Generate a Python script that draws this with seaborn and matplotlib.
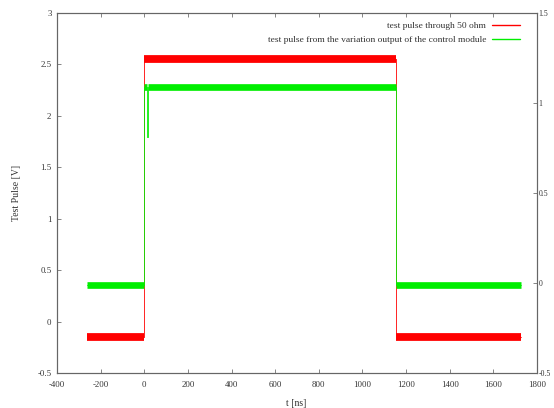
import numpy as np
import pandas as pd
import matplotlib
matplotlib.use("Agg")
import matplotlib.pyplot as plt
from matplotlib.lines import Line2D
import seaborn as sns

# red trace: test pulse through 50 ohm (left axis)
red_t = [-262, 0, 0, 1155, 1155, 1725]
red_v = [-0.15, -0.15, 2.55, 2.55, -0.15, -0.15]

# green trace: variation output of the control module (right axis)
green_t = [-262, 0, 0, 12, 12, 15, 15, 1155, 1155, 1725]
green_v = [-0.01, -0.01, 1.09, 1.09, 0.81, 0.81, 1.09, 1.09, -0.01, -0.01]

# flat parts of each trace (index pairs into the lists above)
red_levels = [(0, 1), (2, 3), (4, 5)]
green_levels = [(0, 1), (2, 3), (6, 7), (8, 9)]

red_label = "test pulse through 50 ohm"
green_label = "test pulse from the variation output of the control module"

x_ticks = list(range(-400, 1801, 200))
y_ticks = [-0.5, 0, 0.5, 1, 1.5, 2, 2.5, 3]
y2_ticks = [-0.5, 0, 0.5, 1, 1.5]

sns.set_style("ticks")
plt.rcParams['font.family'] = ['Liberation Serif', 'DejaVu Serif']
plt.rcParams['xtick.direction'] = 'in'
plt.rcParams['ytick.direction'] = 'in'

RED = "#ff0000"
GREEN = "#00ee00"
TXT = '#333333'

fig = plt.figure(figsize=(5.54, 4.08), dpi=100)
ax = fig.add_axes([0.1029, 0.0858, 0.8664, 0.8823])
ax2 = ax.twinx()

red_df = pd.DataFrame({"t": red_t, "v": red_v})
green_df = pd.DataFrame({"t": green_t, "v": green_v})

# thin full traces (with the edges)
sns.lineplot(data=red_df, x="t", y="v", ax=ax, color=RED, lw=0.6,
             sort=False, estimator=None, legend=False)
sns.lineplot(data=green_df, x="t", y="v", ax=ax2, color=GREEN, lw=0.6,
             sort=False, estimator=None, legend=False)

# thick plateaus to mimic the noisy band
for i, j in red_levels:
    sns.lineplot(x=[red_t[i], red_t[j]], y=[red_v[i], red_v[j]], ax=ax,
                 color=RED, lw=5.6, legend=False, solid_capstyle='butt')
for i, j in green_levels:
    sns.lineplot(x=[green_t[i], green_t[j]], y=[green_v[i], green_v[j]], ax=ax2,
                 color=GREEN, lw=4.8, legend=False, solid_capstyle='butt')

ax.set_xlim(-400, 1800)
ax.set_ylim(-0.5, 3)
ax2.set_ylim(-0.5, 1.5)
ax.set_xticks(x_ticks)
ax.set_xticklabels([str(v) for v in x_ticks])
ax.set_yticks(y_ticks)
ax.set_yticklabels([f"{v:g}" for v in y_ticks])
ax2.set_yticks(y2_ticks)
ax2.set_yticklabels([f"{v:g}" for v in y2_ticks])

ax.tick_params(axis='x', top=True, labelsize=6.3, length=3, width=0.5,
               color='#555555', pad=6, labelcolor=TXT)
ax.tick_params(axis='y', right=False, labelsize=6.3, length=3, width=0.5,
               color='#555555', pad=4, labelcolor=TXT)
ax2.tick_params(axis='y', labelsize=5.6, length=3, width=0.5,
                color='#555555', pad=1.0, labelcolor=TXT)

for a in (ax, ax2):
    for s in a.spines.values():
        s.set_visible(True)
        s.set_color('#666666')
        s.set_linewidth(0.8)

ax.set_ylabel("Test Pulse [V]", fontsize=7, color=TXT, labelpad=12)
ax.set_xlabel("")
ax2.set_ylabel("")
ax2.yaxis.label.set_visible(False)
fig.text(0.535, 0.0, "t [ns]", fontsize=7, color=TXT,
         ha='center', va='bottom')

handles = [Line2D([], [], color=RED, lw=1.0), Line2D([], [], color=GREEN, lw=1.0)]
leg = ax2.legend(handles, [red_label, green_label], loc='upper right',
                 bbox_to_anchor=(0.983, 1.0),
                 frameon=False, markerfirst=False, fontsize=6.8,
                 handlelength=3.0, labelspacing=0.55, borderaxespad=0.5,
                 handletextpad=0.6, borderpad=0.4)
for t in leg.get_texts():
    t.set_color(TXT)

fig.savefig("out.png", dpi=100)
